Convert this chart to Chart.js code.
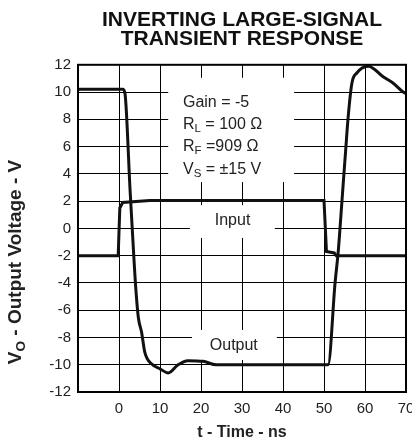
<!DOCTYPE html>
<html>
<head>
<meta charset="utf-8">
<script src="https://cdn.jsdelivr.net/npm/chart.js@4/dist/chart.umd.min.js"></script>
<style>
  html, body { margin: 0; padding: 0; background: #fff; }
  canvas { display: block; }
</style>
</head>
<body>
<canvas id="chart" width="412" height="442"></canvas>
<script>
// waveform samples, t in ns / v in volts
const inputTime = [-10, -0.2, 0.2, 0.9, 7.5, 50.0, 50.6, 52.5, 53.0, 70];
const inputVolt = [-2, -2, 1.5, 1.9, 2.05, 2.05, -1.7, -1.8, -2, -2];

const outputTime = [-10, 1.0, 1.5, 2.7, 3.6, 4.0, 4.7, 5.5, 6.3, 8, 10, 12, 14.4, 16.8, 20.5, 23.7, 51.0,
  52.7, 53.5, 54.4, 55.3, 55.9, 56.8, 58, 60.8, 64.5, 66.9, 69.3, 70];
const outputVolt = [10.2, 10.2, 9.8, 2.8, -2, -4.0, -6.5, -7.6, -9.1, -9.95, -10.3, -10.6, -10.0, -9.7, -9.75, -10.0, -10.0,
  -4.0, -1.6, 2.1, 5.8, 8.2, 10.65, 11.4, 11.9, 11.1, 10.65, 10.0, 9.9];

const xTicks = [-10, 0, 10, 20, 30, 40, 50, 60, 70];
const yTicks = [-12, -10, -8, -6, -4, -2, 0, 2, 4, 6, 8, 10, 12];

const titleLines = ['INVERTING LARGE-SIGNAL', 'TRANSIENT RESPONSE'];
const xTitle = 't - Time - ns';
const yTitle = [['V'], ['O', true], [' - Output Voltage - V']];
const noteLines = [
  [['Gain = -5']],
  [['R'], ['L', true], [' = 100 Ω']],
  [['R'], ['F', true], [' =909 Ω']],
  [['V'], ['S', true], [' = ±15 V']],
];

const FONT = '"Liberation Sans", Arial, sans-serif';

const pts = (ts, vs) => ts.map((t, i) => ({ x: t, y: vs[i] }));

// 텍스트 + 아래첨자
function richText(ctx, x, y, parts, size, weight) {
  let cx = x;
  parts.forEach(([txt, sub]) => {
    const s = sub ? size * 0.72 : size;
    ctx.font = `${weight} ${s}px ${FONT}`;
    ctx.fillText(txt, cx, sub ? y + size * 0.28 : y);
    cx += ctx.measureText(txt).width;
  });
  return cx - x;
}

const notes = {
  id: 'notes',
  beforeDatasetsDraw(chart) {
    const { ctx, scales: { x, y } } = chart;
    // white boxes behind the labels (cut the grid)
    const boxes = [[12, 42.7, 11.05, 3.4], [17.3, 38.0, 1.7, -0.7], [17.8, 38.5, -7.45, -9.65]];
    ctx.save();
    ctx.fillStyle = '#fff';
    boxes.forEach(([t0, t1, v0, v1]) => {
      const px0 = x.getPixelForValue(t0), px1 = x.getPixelForValue(t1);
      const py0 = y.getPixelForValue(v0), py1 = y.getPixelForValue(v1);
      ctx.fillRect(px0, py0, px1 - px0, py1 - py0);
    });
    ctx.restore();
  },
  afterDraw(chart) {
    const { ctx, chartArea: a, scales: { x, y } } = chart;
    ctx.save();
    ctx.strokeStyle = '#000';
    ctx.lineWidth = 2;
    ctx.strokeRect(a.left, a.top, a.right - a.left, a.bottom - a.top);

    ctx.fillStyle = '#222';
    ctx.textBaseline = 'middle';
    ctx.textAlign = 'left';
    const noteV = [9.2, 7.6, 6.0, 4.3];
    noteLines.forEach((line, i) => {
      richText(ctx, x.getPixelForValue(15.6), y.getPixelForValue(noteV[i]), line, 16, 'normal');
    });
    ctx.font = `16px ${FONT}`;
    ctx.textAlign = 'center';
    ctx.fillText('Input', x.getPixelForValue(27.7), y.getPixelForValue(0.55));
    ctx.fillText('Output', x.getPixelForValue(28.0), y.getPixelForValue(-8.6));

    // y axis title, rotated
    ctx.translate(16, 262);
    ctx.rotate(-Math.PI / 2);
    ctx.textAlign = 'left';
    let w = 0;
    yTitle.forEach(([txt, sub]) => {
      ctx.font = `bold ${sub ? 19 * 0.72 : 19}px ${FONT}`;
      w += ctx.measureText(txt).width;
    });
    richText(ctx, -w / 2, 0, yTitle, 19, 'bold');
    ctx.restore();
  },
};

new Chart(document.getElementById('chart'), {
  type: 'line',
  data: {
    datasets: [
      { label: 'Input', data: pts(inputTime, inputVolt) },
      { label: 'Output', data: pts(outputTime, outputVolt), cubicInterpolationMode: 'monotone' },
    ],
  },
  options: {
    responsive: false,
    animation: false,
    layout: { padding: { left: 0, right: 6, top: 0, bottom: 0 } },
    elements: {
      line: { borderColor: '#111', borderWidth: 3, tension: 0, fill: false },
      point: { radius: 0 },
    },
    plugins: {
      legend: { display: false },
      tooltip: { enabled: false },
      title: {
        display: true,
        fullSize: false,
        text: titleLines,
        color: '#111',
        font: { family: FONT, size: 21, weight: 'bold', lineHeight: 0.9 },
        padding: { top: 11, bottom: 16 },
      },
    },
    scales: {
      x: {
        type: 'linear',
        min: -10,
        max: 70,
        afterBuildTicks: (s) => { s.ticks = xTicks.map((v) => ({ value: v })); },
        afterFit: (s) => { s.height = 50; s.paddingLeft = 0; s.paddingRight = 0; },
        ticks: {
          color: '#222',
          font: { family: FONT, size: 15 },
          padding: 8,
          maxRotation: 0,
          autoSkip: false,
          callback: (v) => (v === -10 ? '' : v),
        },
        grid: { color: '#000', lineWidth: 1, drawTicks: false },
        border: { color: '#000', width: 2 },
        title: {
          display: true,
          text: xTitle,
          color: '#222',
          font: { family: FONT, size: 16, weight: 'bold' },
          padding: { top: 0, bottom: 0 },
        },
      },
      y: {
        min: -12,
        max: 12,
        afterBuildTicks: (s) => { s.ticks = yTicks.map((v) => ({ value: v })); },
        afterFit: (s) => { s.width = 78; s.paddingTop = 0; s.paddingBottom = 0; },
        ticks: {
          color: '#222',
          font: { family: FONT, size: 15 },
          padding: 7,
          autoSkip: false,
        },
        grid: { color: '#000', lineWidth: 1, drawTicks: false },
        border: { color: '#000', width: 2 },
      },
    },
  },
  plugins: [notes],
});
</script>
</body>
</html>
